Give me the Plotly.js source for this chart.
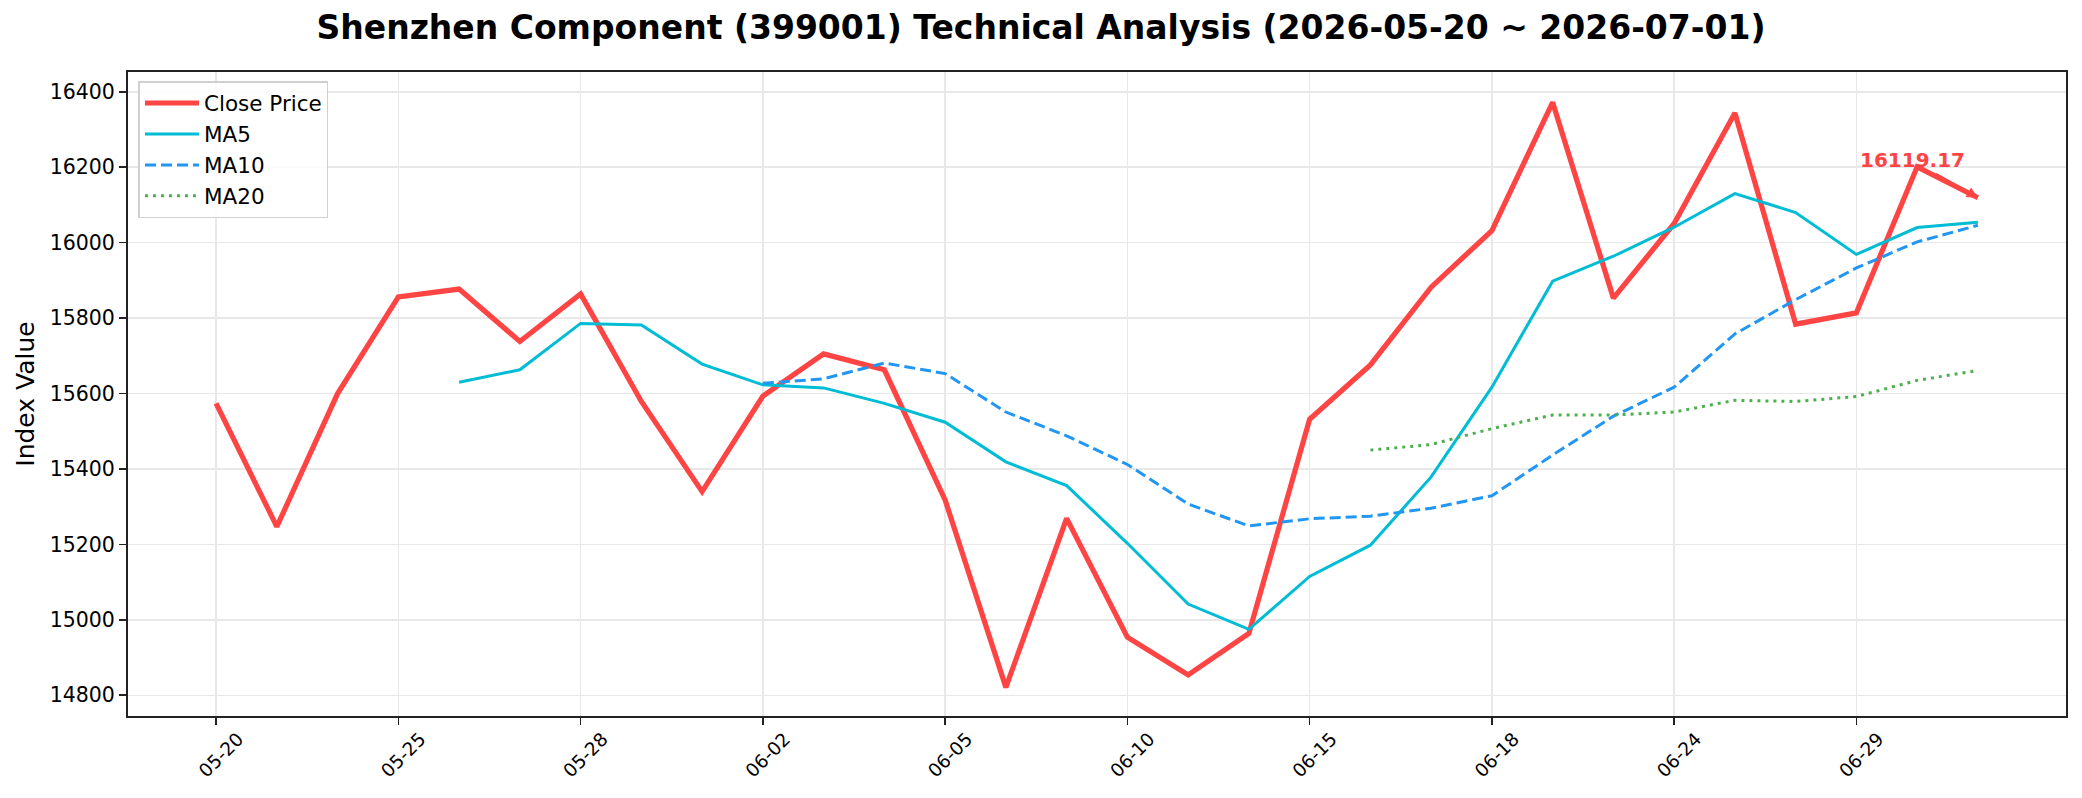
<!DOCTYPE html>
<html>
<head>
<meta charset="utf-8">
<script src="https://cdn.plot.ly/plotly-3.0.1.min.js"></script>
<style>html,body{margin:0;padding:0;background:#fff;}#chart{width:2082px;height:798px;}</style>
</head>
<body>
<div id="chart"></div>
<script>
const dates = ['05-20','05-21','05-22','05-25','05-26','05-27','05-28','05-29','06-01','06-02',
  '06-03','06-04','06-05','06-08','06-09','06-10','06-11','06-12','06-15','06-16',
  '06-17','06-18','06-22','06-23','06-24','06-25','06-26','06-29','06-30','07-01'];
const tickLabels = ['05-20','05-25','05-28','06-02','06-05','06-10','06-15','06-18','06-24','06-29'];
const closePrice = [15574,15247,15600,15856,15877,15738,15864,15579,15340,15593,
  15705,15663,15318,14821,15269,14954,14854,14964,15532,15676,
  15882,16032,16372,15853,16051,16344,15784,15814,16201,16119.17];
const ma5 = [null,null,null,null,15630,15663,15786,15782,15678,15623,
  15615,15574,15524,15419,15356,15203,15042,14975,15115,15198,
  15379,15617,15898,15964,16041,16130,16080,15969,16040,16054];
const ma10 = [null,null,null,null,null,null,null,null,null,15627,
  15639,15681,15653,15551,15488,15412,15307,15249,15268,15275,
  15296,15329,15437,15540,15617,15758,15849,15933,16002,16046];
const ma20 = [null,null,null,null,null,null,null,null,null,null,
  null,null,null,null,null,null,null,null,null,15450,
  15465,15507,15543,15543,15551,15582,15579,15592,15635,15661];
const yTicks = [14800,15000,15200,15400,15600,15800,16000,16200,16400];

const FONT = 'DejaVu Sans, Liberation Sans, sans-serif';
const lastIdx = closePrice.length - 1;
const lastVal = closePrice[lastIdx];

const traces = [
  {x: dates, y: closePrice, name: 'Close Price', mode: 'lines', legendgroup: 'a',
   line: {color: '#ff4444', width: 5.2}},
  {x: dates, y: ma5, name: 'MA5', mode: 'lines', legendgroup: 'b',
   line: {color: '#00bcd4', width: 3}},
  {x: dates, y: ma10, name: 'MA10', mode: 'lines', legendgroup: 'c',
   line: {color: '#2196f3', width: 3, dash: '11px,5px'}},
  {x: dates, y: ma20, name: 'MA20', mode: 'lines', legendgroup: 'd',
   line: {color: '#4caf50', width: 3, dash: '3px,5px'}}
];

const layout = {
  width: 2082, height: 798,
  margin: {l: 128, r: 16, t: 72, b: 82, pad: 0},
  paper_bgcolor: '#ffffff', plot_bgcolor: '#ffffff',
  font: {family: FONT, color: '#000'},
  showlegend: true,
  title: {text: '<b>Shenzhen Component (399001) Technical Analysis (2026-05-20 ~ 2026-07-01)</b>',
    font: {family: FONT, size: 33, color: '#000'}, x: 0.5, xanchor: 'center',
    yref: 'container', y: 1 - 27/798, yanchor: 'middle'},
  xaxis: {type: 'category', range: [-1.45, 30.45], tickmode: 'array', tickvals: tickLabels, ticktext: tickLabels,
    tickangle: -45, tickfont: {family: FONT, size: 18.5, color: '#000'},
    ticks: 'outside', ticklen: 7, tickwidth: 1.6, tickcolor: '#222',
    showgrid: true, gridcolor: '#e8e8e8', gridwidth: 1.5,
    showline: true, linecolor: '#222', linewidth: 2, mirror: true, zeroline: false,
    ticklabelshift: 22, ticklabelstandoff: -4, automargin: false},
  yaxis: {range: [14745.1, 16452.5], tickmode: 'array', tickvals: yTicks, ticktext: yTicks.map(String),
    tickfont: {family: FONT, size: 20.5, color: '#000'},
    ticks: 'outside', ticklen: 7, tickwidth: 1.6, tickcolor: '#222',
    showgrid: true, gridcolor: '#e8e8e8', gridwidth: 1.5,
    showline: true, linecolor: '#222', linewidth: 2, mirror: true, zeroline: false,
    title: {text: 'Index Value', font: {family: FONT, size: 25, color: '#000'}, standoff: 8},
    automargin: false},
  legend: {x: 0.0054, y: 0.986, xanchor: 'left', yanchor: 'top',
    bgcolor: 'rgba(255,255,255,0.8)', bordercolor: '#d0d0d0', borderwidth: 1.5,
    font: {family: FONT, size: 21.5, color: '#000'}, itemwidth: 54, tracegroupgap: 4, traceorder: 'normal'},
  annotations: [{
    x: lastIdx, y: lastVal, xref: 'x', yref: 'y',
    ax: lastIdx - 1.08, ay: lastVal + 99, axref: 'x', ayref: 'y',
    text: '<b>' + lastVal.toFixed(2) + '</b>', showarrow: true,
    arrowhead: 2, arrowsize: 1, arrowwidth: 2.2, arrowcolor: '#ff4444', standoff: 0,
    font: {family: FONT, size: 20, color: '#ff4444'}
  }]
};

Plotly.newPlot('chart', traces, layout, {displayModeBar: false, staticPlot: true});
</script>
</body>
</html>
